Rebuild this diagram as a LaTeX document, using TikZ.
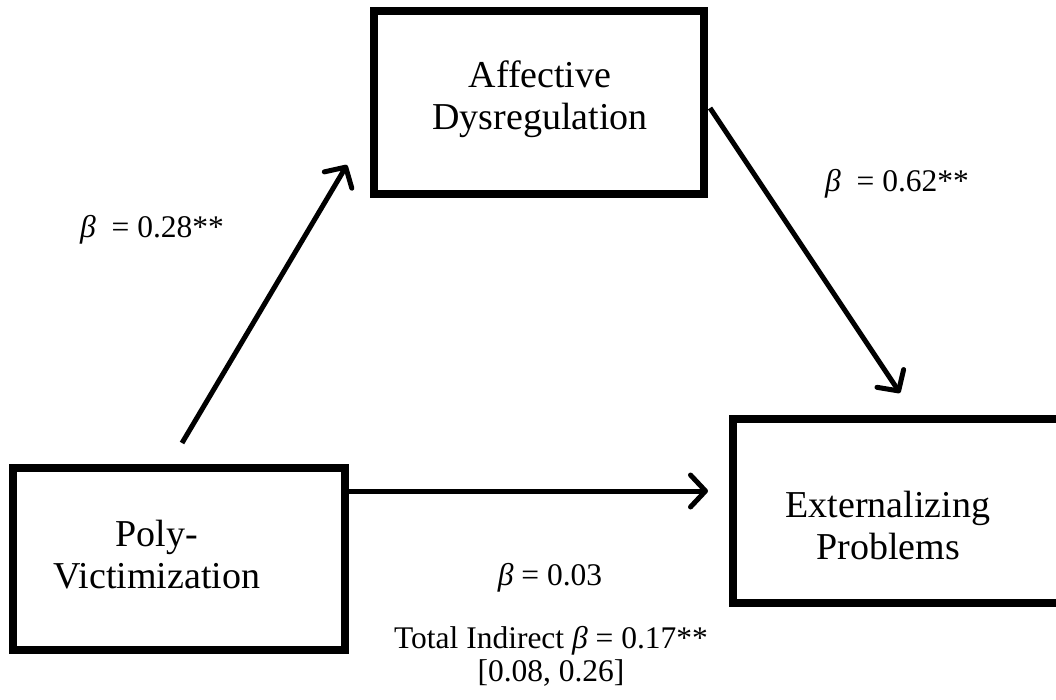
\documentclass[tikz,border=0pt]{standalone}
\usepackage{fontspec}
\setmainfont{Liberation Serif}
\usetikzlibrary{arrows.meta,shadows}
\tikzset{
  varbox/.style={draw=black, line width=8pt, fill=white, inner sep=0pt,
    drop shadow={shadow xshift=2pt, shadow yshift=-3pt, opacity=0.25, fill=black!60}},
  vartext/.style={align=center, font=\fontsize{38}{42}\selectfont, inner sep=0pt},
  path/.style={line width=5pt, -{Straight Barb[length=15pt,width=32pt,line cap=round,line join=round]}},
  coef/.style={font=\fontsize{31.5}{33}\selectfont, align=center, inner sep=0pt}
}
\newcommand{\bet}{{\itshape β}}
\begin{document}
\begin{tikzpicture}[x=1pt,y=-1pt]
\useasboundingbox (0,0) rectangle (1056,700);
\node[varbox, minimum width=330pt, minimum height=183pt] (aff) at (539,102.5) {};
\node[varbox, minimum width=332pt, minimum height=182pt] (poly) at (179,559) {};
\node[varbox, minimum width=347pt, minimum height=184pt] (ext) at (906.5,511) {};
\node[vartext] (afft) at (540,99) {Affective\\Dysregulation};
\node[vartext] (polyt) at (157,554.5) {Poly-\\Victimization};
\node[vartext] (extt) at (888,525) {Externalizing\\Problems};
\coordinate (a1s) at (182,443);
\coordinate (a1e) at (347,165);
\coordinate (b1s) at (710,108);
\coordinate (b1e) at (900,393);
\coordinate (c1e) at (708,491);
\draw[path] (a1s) -- (a1e);
\draw[path] (b1s) -- (b1e);
\draw[path] (poly.east |- c1e) -- (c1e);
\node[coef, anchor=base west] (la) at (80,238) {\bet{}\ \ = 0.28**};
\node[coef, anchor=base west] (lb) at (825,192) {\bet{}\ \ = 0.62**};
\node[coef, anchor=base] (lc) at (550,585) {\bet{} = 0.03};
\node[coef] (ld) at (551,656) {Total Indirect \bet{} = 0.17**\\{[0.08, 0.26]}};
\end{tikzpicture}
\end{document}
